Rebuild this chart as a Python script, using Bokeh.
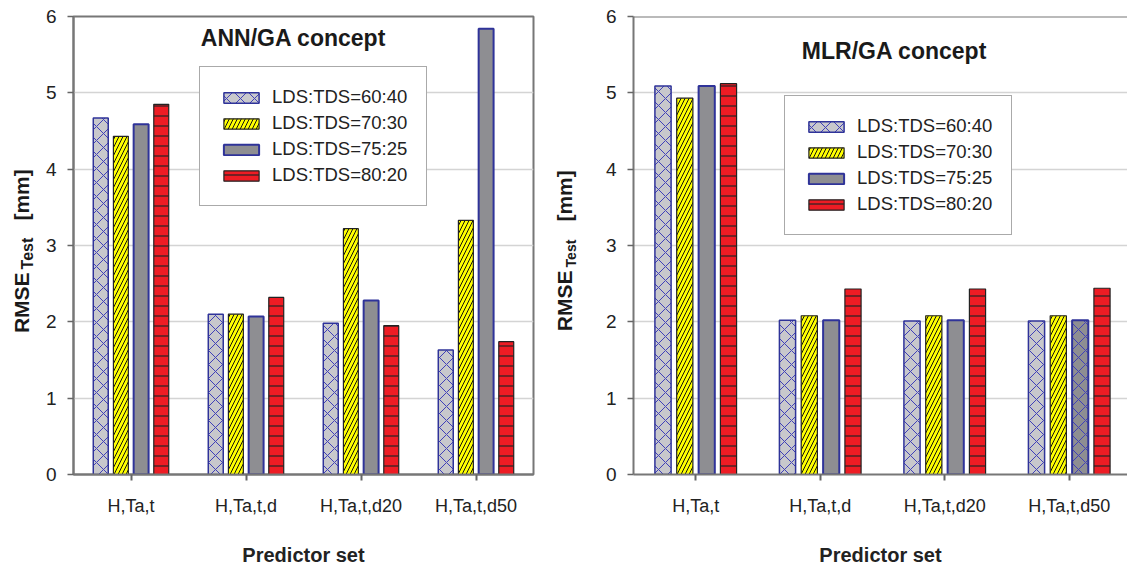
import math
from bokeh.plotting import figure
from bokeh.models import (ColumnDataSource, Range1d, FixedTicker, Legend, LegendItem,
                          Label, Span)
from bokeh.core.properties import value
from bokeh.layouts import row
from bokeh.embed import file_html
from bokeh.resources import INLINE
from bokeh.transform import dodge

# ---------------- data ----------------
categories = ["H,Ta,t", "H,Ta,t,d", "H,Ta,t,d20", "H,Ta,t,d50"]
series = ["LDS:TDS=60:40", "LDS:TDS=70:30", "LDS:TDS=75:25", "LDS:TDS=80:20"]

ann_60_40 = [4.67, 2.10, 1.98, 1.63]
ann_70_30 = [4.43, 2.10, 3.22, 3.33]
ann_75_25 = [4.59, 2.07, 2.28, 5.84]
ann_80_20 = [4.85, 2.32, 1.95, 1.74]

mlr_60_40 = [5.09, 2.02, 2.01, 2.01]
mlr_70_30 = [4.93, 2.08, 2.08, 2.08]
mlr_75_25 = [5.09, 2.02, 2.02, 2.02]
mlr_80_20 = [5.12, 2.43, 2.43, 2.44]

y_ticks = [0, 1, 2, 3, 4, 5, 6]

FONT = "Liberation Sans"
BLUE = "#2f3399"
H = 568
TOP = 16
BOTTOM = 92

styles = [
    dict(fill_color="#c8c8cc", line_color=BLUE, line_width=1.5,
         hatch_pattern="x", hatch_color="#4040b8", hatch_scale=14, hatch_weight=1),
    dict(fill_color="#ffff00", line_color="#222222", line_width=1.2,
         hatch_pattern="/", hatch_color="#111111", hatch_scale=8, hatch_weight=1),
    dict(fill_color="#8e8e92", line_color=BLUE, line_width=2,
         hatch_color="#4040b8", hatch_scale=14, hatch_weight=1),
    dict(fill_color="#ee1c24", line_color="#222222", line_width=1.2,
         hatch_pattern="-", hatch_color="#222222", hatch_scale=10, hatch_weight=1.2),
]
offsets = [-0.263, -0.088, 0.088, 0.263]
BAR_W = 0.13


def make_label_fig(width, lx, rmse_y, test_y, mm_y, sub_dx, sub_size):
    # y data coordinate == H - page_y  (frame spans page TOP .. H-BOTTOM)
    f = figure(width=width, height=H, output_backend="svg", toolbar_location=None,
               x_range=Range1d(0, width), y_range=Range1d(BOTTOM, H - TOP),
               min_border_left=0, min_border_right=0,
               min_border_top=TOP, min_border_bottom=BOTTOM)
    f.axis.visible = False
    f.grid.visible = False
    f.outline_line_color = None
    f.background_fill_color = "white"
    f.border_fill_color = "white"
    kw = dict(angle=math.pi / 2, text_font=value(FONT), text_font_style="bold",
              text_color="#1a1a1a", text_align="left", text_baseline="middle")
    f.text(x=[lx], y=[H - rmse_y], text=["RMSE"], text_font_size="21px", **kw)
    f.text(x=[lx + sub_dx], y=[H - test_y], text=["Test"], text_font_size=sub_size, **kw)
    f.text(x=[lx], y=[H - mm_y], text=["[mm]"], text_font_size="21px", **kw)
    return f


def make_panel(values, title, width, left, right, x_end, legend_xy, title_xy, gray_hatch):
    p = figure(width=width, height=H, output_backend="svg", toolbar_location=None,
               x_range=Range1d(0, x_end), y_range=Range1d(0, 6),
               min_border_left=left, min_border_right=right, min_border_top=TOP,
               min_border_bottom=BOTTOM)
    p.background_fill_color = "white"
    p.border_fill_color = "white"
    p.outline_line_color = "#777777"
    p.outline_line_width = 2

    xc = [i + 0.5 for i in range(len(categories))]
    renderers = []
    for k, (name, vals, st) in enumerate(zip(series, values, styles)):
        data = dict(x=xc, top=vals, cat=categories)
        st = dict(st)
        if k == 2:
            data["hp"] = gray_hatch
            st["hatch_pattern"] = "hp"
        src = ColumnDataSource(data)
        r = p.vbar(x=dodge("x", offsets[k], range=p.x_range), top="top", bottom=0,
                   width=BAR_W, source=src, **st)
        renderers.append(r)

    p.xaxis.ticker = FixedTicker(ticks=xc)
    p.xaxis.major_label_overrides = {v: c for v, c in zip(xc, categories)}
    p.xaxis.minor_tick_line_color = None
    p.xaxis.major_tick_out = 6
    p.xaxis.major_tick_in = 0
    p.xaxis.major_tick_line_color = "#666666"
    p.xaxis.major_tick_line_width = 2
    p.xaxis.axis_line_color = "#777777"
    p.xaxis.axis_line_width = 2
    p.xaxis.major_label_text_font = FONT
    p.xaxis.major_label_text_font_size = "18px"
    p.xaxis.major_label_text_color = "#222222"
    p.xaxis.major_label_standoff = 15
    p.xaxis.axis_label = "Predictor set"
    p.xaxis.axis_label_text_font = FONT
    p.xaxis.axis_label_text_font_size = "20px"
    p.xaxis.axis_label_text_font_style = "bold"
    p.xaxis.axis_label_text_color = "#222222"
    p.xaxis.axis_label_standoff = 25

    p.yaxis.ticker = FixedTicker(ticks=y_ticks)
    p.yaxis.minor_tick_line_color = None
    p.yaxis.major_tick_out = 6
    p.yaxis.major_tick_in = 0
    p.yaxis.major_tick_line_color = "#666666"
    p.yaxis.major_tick_line_width = 1.5
    p.yaxis.axis_line_color = "#777777"
    p.yaxis.axis_line_width = 2
    p.yaxis.major_label_text_font = FONT
    p.yaxis.major_label_text_font_size = "19px"
    p.yaxis.major_label_text_color = "#222222"
    p.yaxis.major_label_standoff = 11

    p.xgrid.grid_line_color = None
    p.ygrid.grid_line_color = "#d4d4d4"
    p.ygrid.grid_line_width = 1.5

    p.add_layout(Label(x=title_xy[0], y=title_xy[1], x_units="screen", y_units="screen",
                       text=title, text_font=FONT, text_font_size="23px",
                       text_font_style="bold", text_color="#1a1a1a",
                       text_align="center", text_baseline="middle"))

    legend = Legend(items=[LegendItem(label=s, renderers=[r]) for s, r in zip(series, renderers)],
                    location=legend_xy)
    legend.glyph_width = 44
    legend.glyph_height = 13
    legend.label_text_font = FONT
    legend.label_text_font_size = "18.5px"
    legend.label_text_color = "#222222"
    legend.label_height = 20
    legend.label_standoff = 9
    legend.spacing = 4
    legend.padding = 19
    legend.margin = 0
    legend.border_line_color = "#555555"
    legend.border_line_width = 1.5
    legend.background_fill_color = "white"
    legend.background_fill_alpha = 1
    p.add_layout(legend)
    return p


left_lab = make_label_fig(40, 21, 334, 270, 221, 6, "16px")
left_fig = make_panel([ann_60_40, ann_70_30, ann_75_25, ann_80_20], "ANN/GA concept",
                      width=505, left=33, right=12, x_end=4.0, legend_xy=(126, 268),
                      title_xy=(220, 437), gray_hatch=[" ", " ", " ", " "])
right_lab = make_label_fig(50, 19, 332, 268, 222, 6, "14px")
right_fig = make_panel([mlr_60_40, mlr_70_30, mlr_75_25, mlr_80_20], "MLR/GA concept",
                       width=532, left=38, right=0, x_end=494 / 124.5, legend_xy=(151, 239),
                       title_xy=(261, 424), gray_hatch=[" ", " ", " ", "x"])
right_fig.outline_line_color = None
right_fig.add_layout(Span(location=6, dimension="width", line_color="#777777", line_width=2))

layout = row(left_lab, left_fig, right_lab, right_fig)
open("out.html", "w").write(file_html(layout, INLINE))
